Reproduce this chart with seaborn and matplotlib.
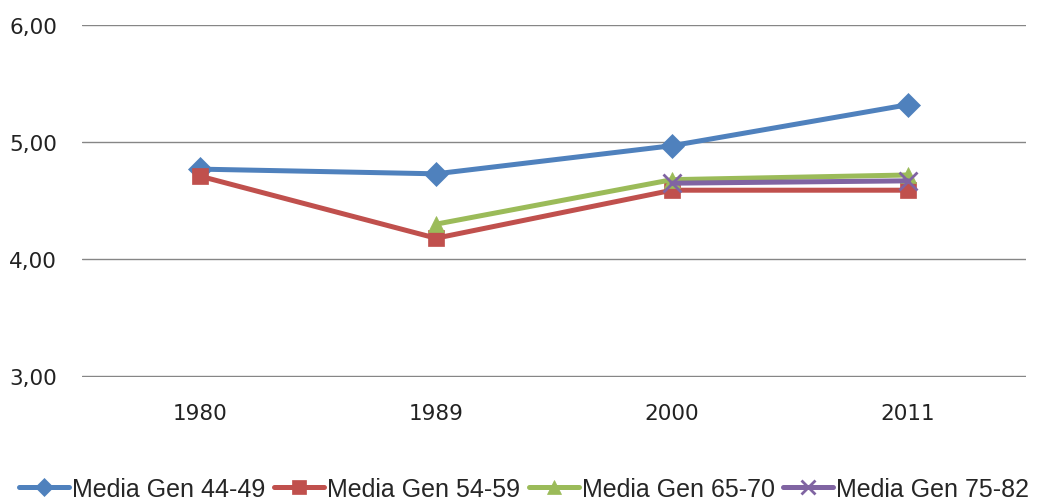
import numpy as np
import pandas as pd
import seaborn as sns
import matplotlib
matplotlib.use("Agg")
import matplotlib.pyplot as plt

years = ["1980", "1989", "2000", "2011"]
series_names = ["Media Gen 44-49", "Media Gen 54-59", "Media Gen 65-70", "Media Gen 75-82"]
gen_44_49 = [4.77, 4.73, 4.97, 5.32]
gen_54_59 = [4.71, 4.18, 4.59, 4.59]
gen_65_70 = [np.nan, 4.30, 4.68, 4.72]
gen_75_82 = [np.nan, np.nan, 4.65, 4.67]
yticks = [3.0, 4.0, 5.0, 6.0]
ytick_labels = ["3,00", "4,00", "5,00", "6,00"]

colors = ["#4F81BD", "#C0504D", "#9BBB59", "#8064A2"]
markers = ["D", "s", "^", "x"]
msizes = [12, 12, 12, 13]

sns.set_style("white")
plt.rcParams['font.family'] = ['DejaVu Sans']

fig = plt.figure(figsize=(10.38, 5.02), dpi=100)
ax = fig.add_axes([82/1038, 1-378/502, (1026-82)/1038, (378-25.5)/502])

all_vals = [gen_44_49, gen_54_59, gen_65_70, gen_75_82]
x = np.arange(len(years))
for name, vals, c, m, ms in zip(series_names, all_vals, colors, markers, msizes):
    df = pd.DataFrame({"x": x, "y": vals}).dropna()
    sns.lineplot(data=df, x="x", y="y", ax=ax, color=c, linewidth=3.6,
                 marker=m, markersize=ms, markeredgecolor=c,
                 markeredgewidth=2 if m == "x" else 0.5, label=name, legend=False)

ax.set_xlim(-0.5, 3.5)
ax.set_ylim(2.995, 6.005)
ax.set_yticks(yticks)
ax.set_yticklabels(ytick_labels, fontsize=15.5, color="#222222")
ax.set_xticks(x)
ax.set_xticklabels(years, fontsize=15.5, color="#222222")
ax.tick_params(axis="both", length=0)
ax.tick_params(axis="y", pad=18)
ax.tick_params(axis="x", pad=19)
ax.yaxis.grid(True, color="#868686", linewidth=1)
ax.set_axisbelow(True)
for s in ax.spines.values():
    s.set_visible(False)
ax.set_xlabel("")
ax.set_ylabel("")

h, l = ax.get_legend_handles_labels()
leg = fig.legend(h, l, loc="center", bbox_to_anchor=(0.505, 1-490/502), ncol=4,
                 frameon=False, handlelength=2.0, columnspacing=0.35, handletextpad=0.12,
                 markerscale=0.8,
                 prop={"family": ["Liberation Sans"], "size": 18})

fig.savefig("out.png", dpi=100)
